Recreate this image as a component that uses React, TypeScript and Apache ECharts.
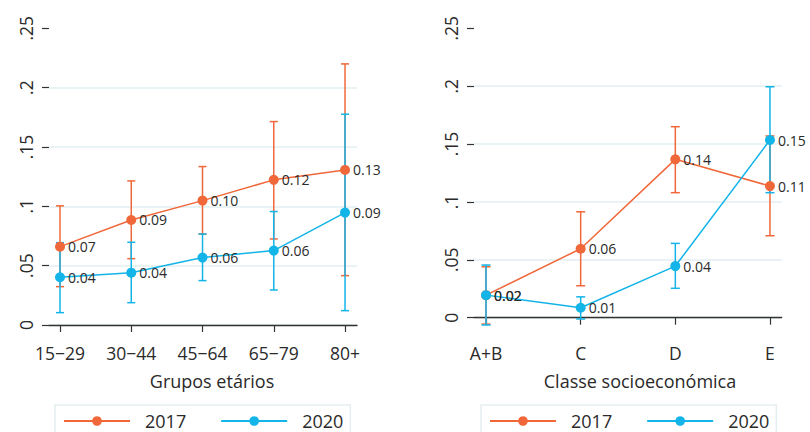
import React, { useEffect, useRef } from "react";
import * as echarts from "echarts";

const ageGroups = ["15−29", "30−44", "45−64", "65−79", "80+"];
const age2017 = [0.066, 0.0885, 0.1048, 0.1223, 0.1307];
const age2017Lo = [0.0323, 0.0559, 0.0765, 0.0725, 0.0416];
const age2017Hi = [0.1004, 0.1214, 0.1335, 0.1714, 0.22];
const age2020 = [0.0402, 0.0441, 0.0568, 0.0627, 0.0947];
const age2020Lo = [0.0104, 0.0188, 0.0374, 0.0295, 0.0121];
const age2020Hi = [0.0694, 0.0697, 0.0767, 0.0956, 0.1776];

const classes = ["A+B", "C", "D", "E"];
const cls2017 = [0.0195, 0.0596, 0.1368, 0.1137];
const cls2017Lo = [-0.0055, 0.0276, 0.108, 0.0708];
const cls2017Hi = [0.044, 0.0915, 0.165, 0.157];
const cls2020 = [0.0195, 0.0086, 0.0446, 0.1535];
const cls2020Lo = [-0.0063, -0.0011, 0.0254, 0.108];
const cls2020Hi = [0.0455, 0.018, 0.0642, 0.1995];

const yTicks = [0, 0.05, 0.1, 0.15, 0.2, 0.25];

const ORANGE = "#f0683a";
const BLUE = "#13b4e8";
const FONT = "Open Sans";
const TEXT = "#2a2a2a";

const pts = (vals: number[]) => vals.map((v, i) => [i + 1, v]);
const bars = (lo: number[], hi: number[]) => lo.map((l, i) => [i + 1, l, hi[i]]);

function errSeries(name: string, data: number[][], color: string, idx: number, hw: number) {
  return {
    type: "custom",
    name,
    xAxisIndex: idx,
    yAxisIndex: idx,
    silent: true,
    encode: { x: 0, y: [1, 2] },
    data,
    z: 2,
    renderItem: (_p: any, api: any) => {
      const x = api.value(0);
      const hi = api.coord([x, api.value(2)]);
      const lo = api.coord([x, api.value(1)]);
      const st = { stroke: color, lineWidth: 1.5 };
      return {
        type: "group",
        children: [
          { type: "line", shape: { x1: hi[0], y1: hi[1], x2: lo[0], y2: lo[1] }, style: st },
          { type: "line", shape: { x1: hi[0] - hw, y1: hi[1], x2: hi[0] + hw, y2: hi[1] }, style: st },
          { type: "line", shape: { x1: lo[0] - hw, y1: lo[1], x2: lo[0] + hw, y2: lo[1] }, style: st },
        ],
      };
    },
  };
}

function lineSeries(name: string, data: number[][], color: string, idx: number) {
  return {
    type: "line",
    name,
    xAxisIndex: idx,
    yAxisIndex: idx,
    data,
    z: 3,
    symbol: "circle",
    symbolSize: 10,
    itemStyle: { color },
    lineStyle: { color, width: 1.5 },
    label: {
      show: true,
      position: "right",
      distance: 3,
      fontSize: 14,
      fontFamily: FONT,
      color: TEXT,
      formatter: (p: any) => p.value[1].toFixed(2),
    },
  };
}

function yAxis(idx: number) {
  return {
    type: "value",
    gridIndex: idx,
    min: yTicks[0],
    max: yTicks[yTicks.length - 1],
    interval: 0.05,
    axisLine: { show: false },
    axisTick: { show: true, length: 7, lineStyle: { color: "#333", width: 1.2 } },
    axisLabel: {
      rotate: 90,
      margin: 14,
      fontSize: 17.5,
      fontFamily: FONT,
      color: TEXT,
      formatter: (v: number) => {
        const s = Number(v.toFixed(2)).toString();
        return s === "0" ? "0" : s.replace(/^0/, "");
      },
    },
    splitLine: { show: true, showMaxLine: false, lineStyle: { color: "#e2eef2", width: 1.5 } },
  };
}

function xAxis(idx: number, cats: string[], min: number, max: number, offset: number) {
  const vals = cats.map((_c, i) => i + 1);
  return {
    type: "value",
    gridIndex: idx,
    min,
    max,
    offset,
    axisLine: { show: true, lineStyle: { color: "#333", width: 1.3 } },
    axisTick: { show: true, length: 7, customValues: vals, lineStyle: { color: "#333", width: 1.2 } },
    axisLabel: {
      customValues: vals,
      margin: 8,
      fontSize: 17.5,
      fontFamily: FONT,
      color: TEXT,
      formatter: (v: number) => cats[Math.round(v) - 1] ?? "",
    },
    splitLine: { show: false },
  };
}

function legend(left: number) {
  return {
    data: ["2017", "2020"],
    left,
    top: 405,
    orient: "horizontal",
    padding: [7, 7, 12, 8],
    itemWidth: 66,
    itemHeight: 12,
    itemGap: 34,
    borderColor: "#e4eef1",
    borderWidth: 1.5,
    textStyle: { fontSize: 18, fontFamily: FONT, color: TEXT, padding: [0, 0, 0, 10] },
  };
}

export default function App() {
  const ref = useRef<HTMLDivElement>(null);
  useEffect(() => {
    if (!ref.current) return;
    const chart = echarts.init(ref.current, null, { renderer: "svg" });
    chart.setOption({
      animation: false,
      backgroundColor: "#ffffff",
      textStyle: { fontFamily: FONT },
      grid: [
        { left: 49, right: 453, top: 28.3, bottom: 107 },
        { left: 474, right: 28.3, top: 28.3, bottom: 114.3 },
      ],
      xAxis: [
        xAxis(0, ageGroups, 0.8456, 5.168, 11),
        xAxis(1, classes, 0.873, 4.124, 18.3),
      ],
      yAxis: [yAxis(0), yAxis(1)],
      legend: [legend(55), legend(481)],
      graphic: [
        {
          type: "text",
          x: 212,
          y: 381,
          style: { text: "Grupos etários", fontSize: 18, fontFamily: FONT, fill: TEXT, textAlign: "center", textVerticalAlign: "middle" },
        },
        {
          type: "text",
          x: 640,
          y: 381,
          style: { text: "Classe socioeconómica", fontSize: 18, fontFamily: FONT, fill: TEXT, textAlign: "center", textVerticalAlign: "middle" },
        },
      ],
      series: [
        errSeries("IC 2017", bars(age2017Lo, age2017Hi), ORANGE, 0, 4),
        errSeries("IC 2020", bars(age2020Lo, age2020Hi), BLUE, 0, 4),
        lineSeries("2017", pts(age2017), ORANGE, 0),
        lineSeries("2020", pts(age2020), BLUE, 0),
        errSeries("IC 2017 ", bars(cls2017Lo, cls2017Hi), ORANGE, 1, 4.5),
        errSeries("IC 2020 ", bars(cls2020Lo, cls2020Hi), BLUE, 1, 4.5),
        lineSeries("2017", pts(cls2017), ORANGE, 1),
        lineSeries("2020", pts(cls2020), BLUE, 1),
      ],
    });
    return () => chart.dispose();
  }, []);
  return (
    <div
      ref={ref}
      style={{ position: "fixed", left: 0, top: 0, width: 810, height: 432, background: "#fff" }}
    />
  );
}
